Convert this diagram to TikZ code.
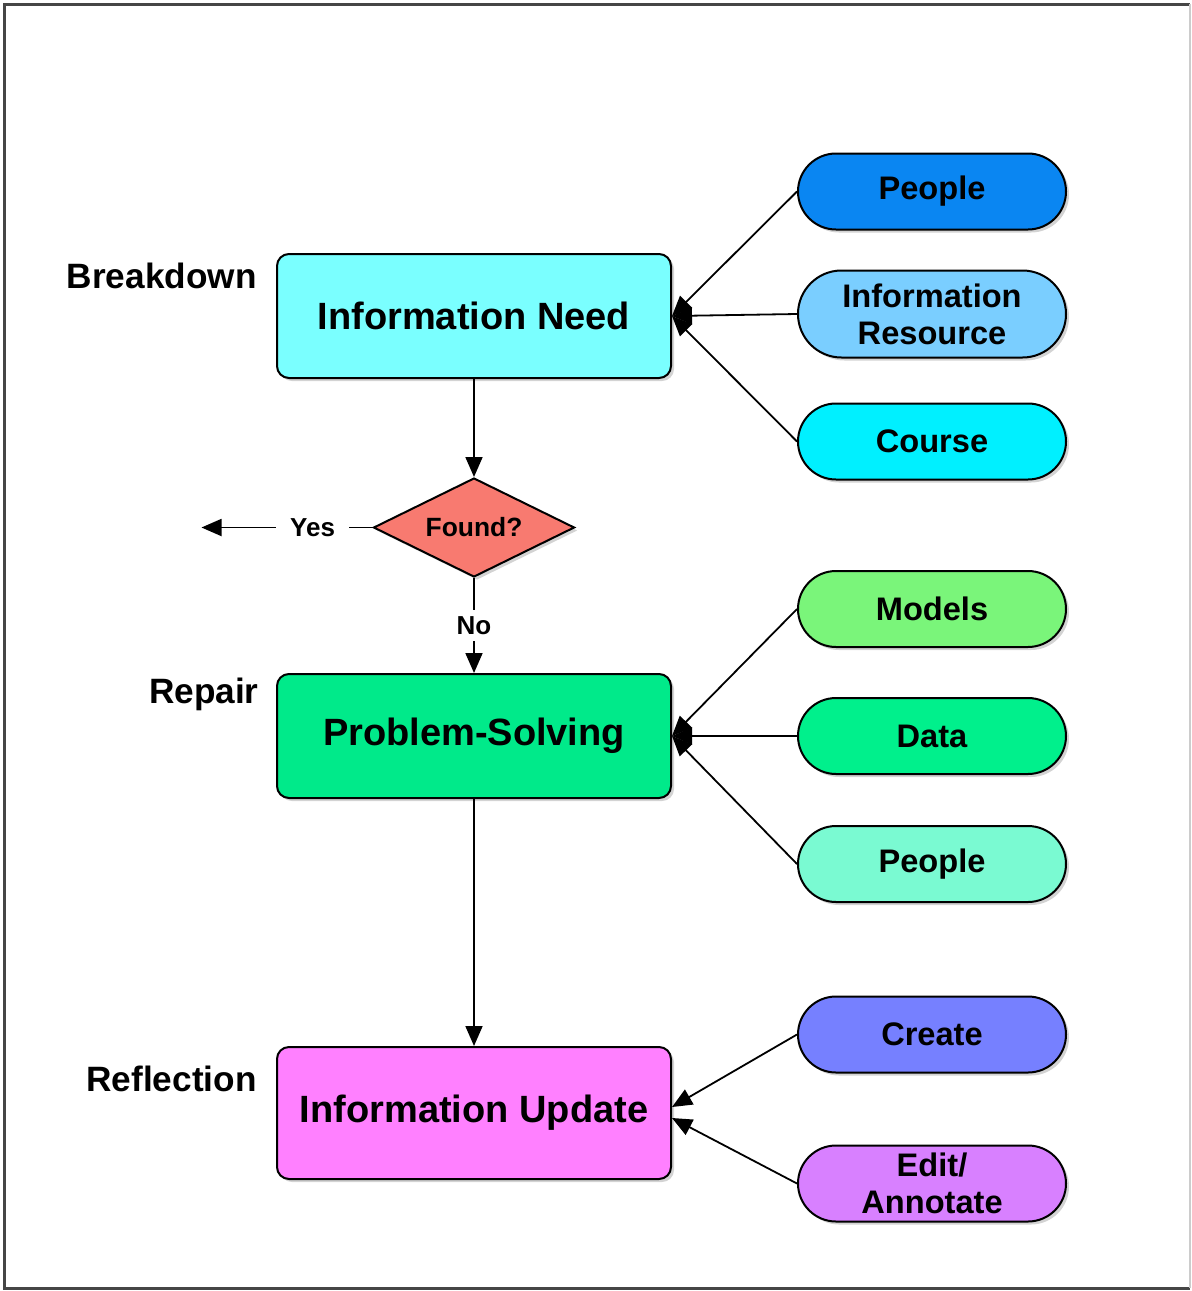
\documentclass[tikz,border=0pt]{standalone}
\usepackage{fontspec}
\setmainfont{Liberation Sans}
\usepackage{xcolor}
\usepackage{tikz}
\usetikzlibrary{positioning,shapes.geometric,shapes.misc,shadows,arrows.meta}

\definecolor{needcol}{RGB}{122,255,255}
\definecolor{foundcol}{RGB}{248,122,112}
\definecolor{solvecol}{RGB}{0,234,138}
\definecolor{updatecol}{RGB}{255,128,255}
\definecolor{peopleAcol}{RGB}{10,134,242}
\definecolor{rescol}{RGB}{122,206,255}
\definecolor{coursecol}{RGB}{0,240,255}
\definecolor{modelcol}{RGB}{122,245,122}
\definecolor{datacol}{RGB}{0,240,140}
\definecolor{peopleBcol}{RGB}{122,250,210}
\definecolor{createcol}{RGB}{118,128,255}
\definecolor{editcol}{RGB}{216,128,255}
\definecolor{framecol}{RGB}{70,70,70}

\begin{document}
\begin{tikzpicture}[x=0.5pt, y=-0.5pt,
    shade/.style={drop shadow={shadow xshift=1.5pt, shadow yshift=-1.5pt, opacity=0.35}},
    box/.style={draw, line width=1pt, rounded corners=6pt, shade,
      minimum width=197pt, minimum height=62pt,
      font=\fontsize{19}{21}\selectfont\bfseries},
    pill/.style={draw, line width=1pt, rounded rectangle, shade, align=center,
      minimum width=136pt, minimum height=38pt, inner sep=1pt,
      font=\fontsize{16.3}{18.5}\selectfont\bfseries},
    decision/.style={draw, line width=1pt, diamond, aspect=2, fill=foundcol, shade, inner sep=0pt,
      minimum width=100.5pt, minimum height=49.5pt,
      font=\fontsize{13.2}{15}\selectfont\bfseries},
    side/.style={anchor=base east, inner sep=0pt, font=\fontsize{17.6}{20}\selectfont\bfseries},
    tag/.style={fill=white, inner xsep=7pt, inner ysep=3pt, font=\fontsize{13}{15}\selectfont\bfseries},
    link/.style={line width=0.9pt, -{Triangle[length=10pt,width=8.5pt]}}]

    \useasboundingbox (0,0) rectangle (1191,1291);
    % frame
    \draw[framecol, line width=1.5pt] (1190,4) -- (4,4) -- (4,1288) -- (1190,1288);
    \draw[black!20, line width=0.8pt] (1190,4) -- (1190,1288);

    % main column
    \node[box, fill=needcol] (need) at (474,316) {Information Need};
    \node[decision] (found) [below=49pt of need] {Found?};
    \node[box, fill=solvecol] (solve) [below=47.5pt of found] {Problem-Solving};
    \node[box, fill=updatecol, minimum height=66pt] (update) [below=123.5pt of solve] {Information Update};

    \node[side] at ([shift={(-9.5pt,-17.5pt)}]need.north west) {Breakdown};
    \node[side] at ([shift={(-8.5pt,-15pt)}]solve.north west) {Repair};
    \node[side] at ([shift={(-9.5pt,-22.5pt)}]update.north west) {Reflection};

    % sources
    \node[pill, fill=rescol, minimum height=43.5pt] (res) [right=62.5pt of need, yshift=1pt] {Information\\Resource};
    \node[pill, fill=peopleAcol] (peopleA) [above=19.5pt of res] {People};
    \node[pill, fill=coursecol] (course) [below=22pt of res] {Course};

    \node[pill, fill=datacol] (data) [right=62.5pt of solve] {Data};
    \node[pill, fill=modelcol] (models) [above=24.5pt of data] {Models};
    \node[pill, fill=peopleBcol] (peopleB) [below=25pt of data] {People};

    \node[pill, fill=createcol] (create) [right=62.5pt of update, yshift=39.25pt] {Create};
    \node[pill, fill=editcol] (edit) [right=62.5pt of update, yshift=-35.25pt] {Edit/\\Annotate};

    % flow
    \coordinate[left=85.5pt of found] (yesend);
    \draw[link] (need) -- (found);
    \draw[link] (found.west) -- node[tag, pos=0.35] {Yes} (yesend);
    \draw[link] (found) -- node[tag, inner xsep=3pt] {No} (solve);
    \draw[link] (solve) -- (update);

    \draw[link] (peopleA.west) -- (need.east);
    \draw[link] (res.west) -- (need.east);
    \draw[link] (course.west) -- (need.east);
    \draw[link] (models.west) -- (solve.east);
    \draw[link] (data.west) -- (solve.east);
    \draw[link] (peopleB.west) -- (solve.east);
    \draw[link] (create.west) -- ([yshift=3pt]update.east);
    \draw[link] (edit.west) -- ([yshift=-2.5pt]update.east);
\end{tikzpicture}
\end{document}
